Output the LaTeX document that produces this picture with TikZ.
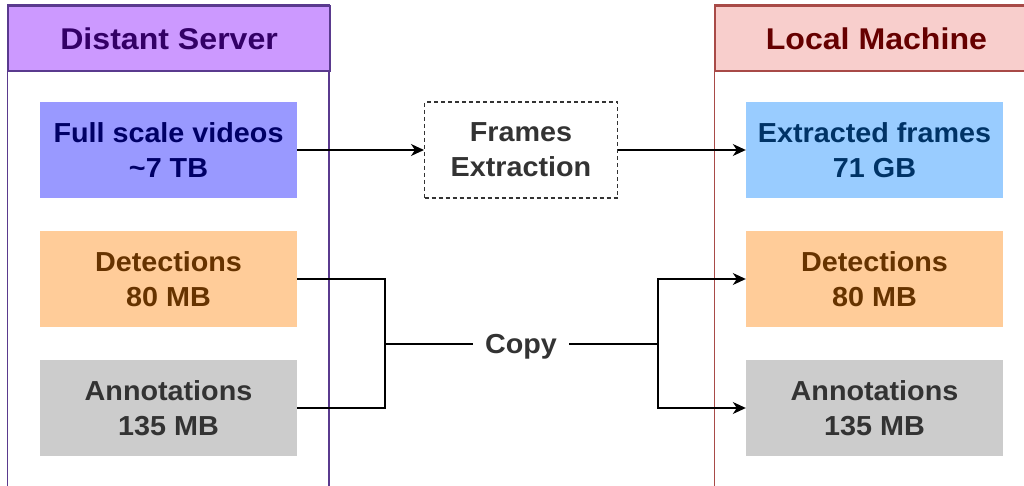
\documentclass[tikz,border=0pt]{standalone}
\usepackage{fontspec}
\setmainfont{Liberation Sans}[FakeStretch=1.045]
\newfontfamily\headfont{Liberation Sans}[FakeStretch=1.07]
\usetikzlibrary{arrows.meta}
\definecolor{srvFill}{HTML}{CC99FF}
\definecolor{srvLine}{HTML}{5A3A8E}
\definecolor{srvText}{HTML}{330066}
\definecolor{locFill}{HTML}{F8CECC}
\definecolor{locLine}{HTML}{A84A47}
\definecolor{locText}{HTML}{660000}
\definecolor{vidFill}{HTML}{9999FF}
\definecolor{vidText}{HTML}{000066}
\definecolor{frmFill}{HTML}{99CCFF}
\definecolor{frmText}{HTML}{003366}
\definecolor{detFill}{HTML}{FFCC99}
\definecolor{detText}{HTML}{663300}
\definecolor{annFill}{HTML}{CCCCCC}
\definecolor{annText}{HTML}{333333}
\tikzset{
  lanehead/.style={draw=#1, line width=1.8pt, anchor=north west, inner sep=0pt,
    text depth=-6pt, font=\headfont\fontsize{30}{34}\selectfont\bfseries},
  databox/.style={minimum width=257pt, minimum height=96pt, inner sep=0pt, align=center,
    font=\fontsize{27.5}{35}\selectfont\bfseries},
  conn/.style={line width=1.2pt, black},
  arr/.style={conn, -{Stealth[length=13pt,width=12pt,inset=4pt]}},
}
\begin{document}
\begin{tikzpicture}[x=1pt,y=-1pt]
\useasboundingbox (0,0) rectangle (1024,486);
\clip (0,0) rectangle (1024,486);
\fill[white] (0,0) rectangle (1024,486);

% swimlanes
\draw[srvLine, line width=1.8pt] (7.5,500) -- (7.5,5) -- (329,5) -- (329,500);
\node[lanehead=srvLine, fill=srvFill, text=srvText, minimum width=321.5pt, minimum height=65pt]
  (server) at (7.5,5) {Distant Server};
\draw[locLine, line width=1.8pt] (714.5,500) -- (714.5,5) -- (1040,5);
\node[lanehead=locLine, fill=locFill, text=locText, minimum width=322pt, minimum height=65pt]
  (local) at (714.5,5) {Local Machine};

% data boxes
\node[databox, fill=vidFill, text=vidText] (videos) at (168.5,150) {Full scale videos\\\textasciitilde7 TB};
\node[databox, fill=detFill, text=detText] (detL) at (168.5,279) {Detections\\80 MB};
\node[databox, fill=annFill, text=annText] (annL) at (168.5,408) {Annotations\\135 MB};
\node[databox, fill=frmFill, text=frmText] (frames) at (874.5,150) {Extracted frames\\71 GB};
\node[databox, fill=detFill, text=detText] (detR) at (874.5,279) {Detections\\80 MB};
\node[databox, fill=annFill, text=annText] (annR) at (874.5,408) {Annotations\\135 MB};

% processing steps
\node[databox, minimum width=193pt, draw=annText, line width=1.1pt,
  dash pattern=on 4pt off 3pt, fill=white, text=annText] (extract) at (521,150) {Frames\\Extraction};
\node[font=\fontsize{27.5}{35}\selectfont\bfseries, text=annText, minimum width=96pt,
  inner sep=0pt, text depth=-2pt] (copy) at (521,344) {Copy};

\coordinate (jl) at (385,344);
\coordinate (jr) at (658,344);

% connectors
\draw[arr] (videos.east) -- (extract.west);
\draw[arr] (extract.east) -- (frames.west);
\draw[conn] (detL.east) -| (jl);
\draw[conn] (annL.east) -| (jl);
\draw[conn] (jl) -- (copy.west);
\draw[conn] (copy.east) -- (jr);
\draw[arr] (jr) |- (detR.west);
\draw[arr] (jr) |- (annR.west);
\end{tikzpicture}
\end{document}
